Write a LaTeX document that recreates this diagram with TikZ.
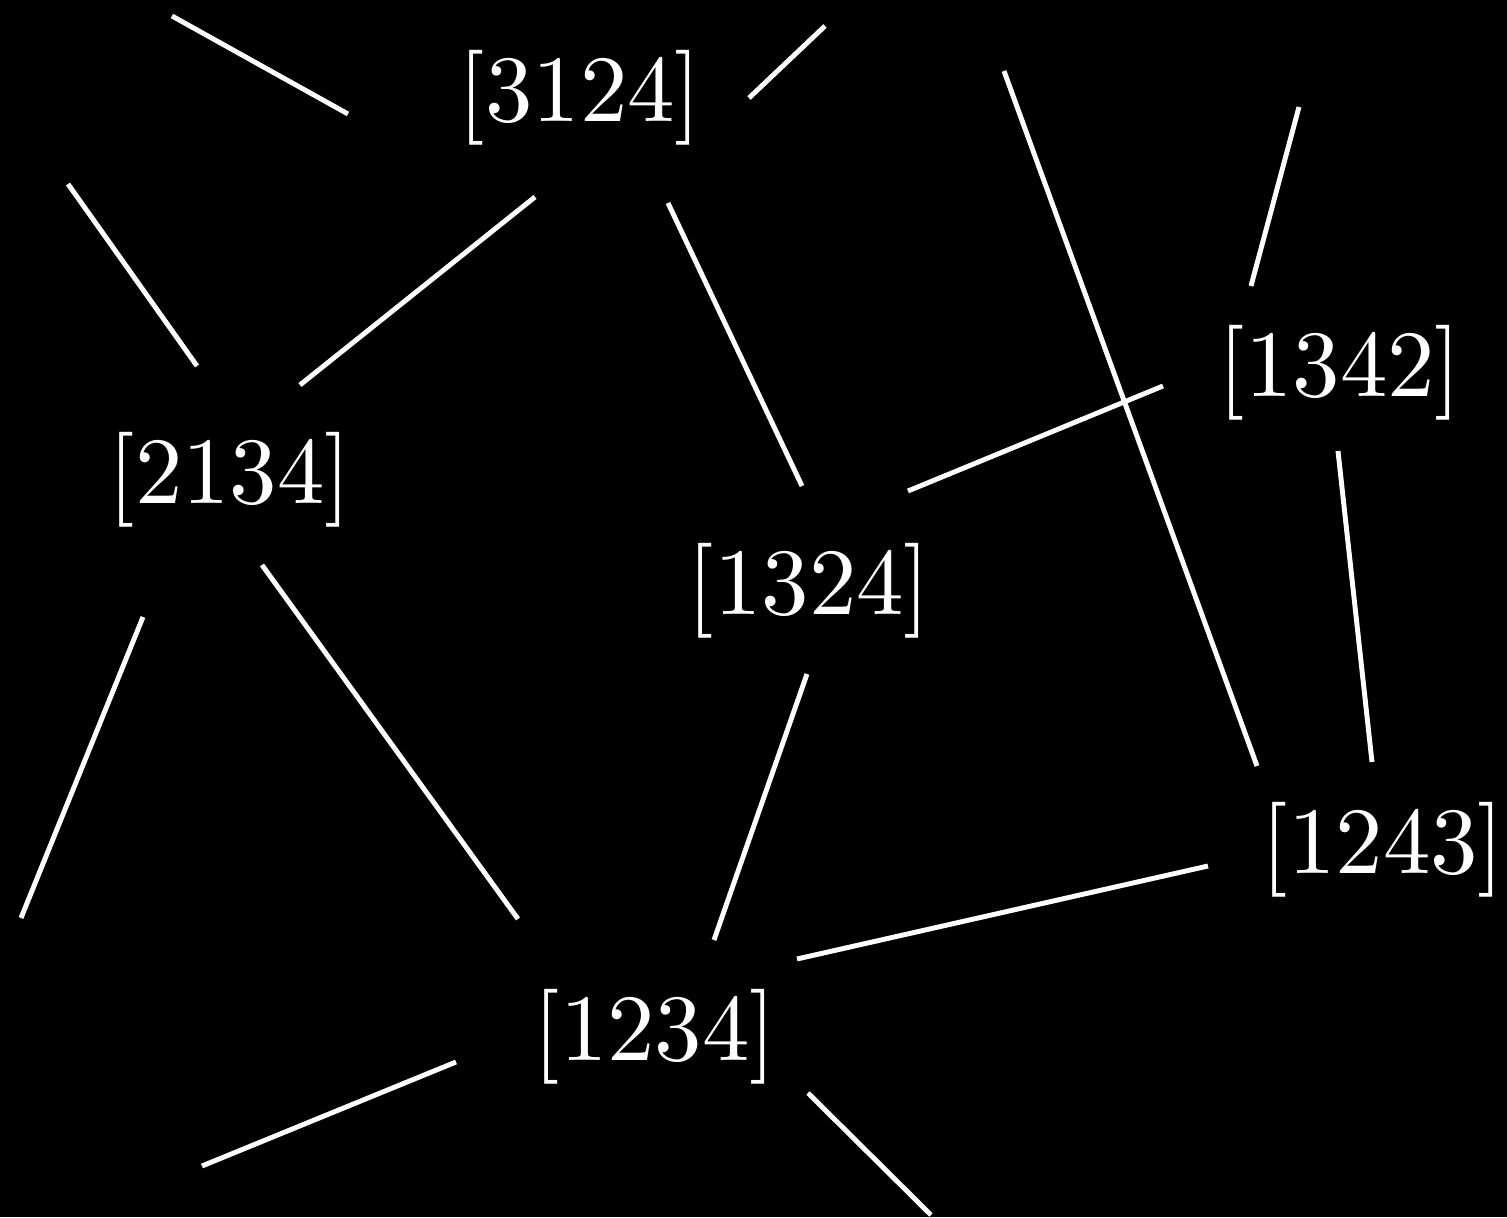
\documentclass[tikz,border=0pt]{standalone}
\usepackage{fontspec}
\usepackage{tikz}
\newfontfamily\permfont{lmroman10-regular}[Extension=.otf]

\begin{document}
\begin{tikzpicture}[x=0.1mm, y=-0.1mm,
    perm/.style={text=white, inner sep=0pt, font=\permfont\fontsize{27}{32}\selectfont},
    aresta/.style={draw=white, line width=1.4pt}]
  \fill[black] (0,0) rectangle (1507,1217);
  % vertices
  \node[perm] (n3124) at (580,98) {[3124]};
  \node[perm] (n2134) at (230,480) {[2134]};
  \node[perm] (n1342) at (1340,373) {[1342]};
  \node[perm] (n1324) at (809,591) {[1324]};
  \node[perm] (n1243) at (1383,850) {[1243]};
  \node[perm] (n1234) at (655,1037) {[1234]};
  % edges leaving the picture
  \coordinate (o1) at (1004,71);
  \coordinate (o2) at (1299,107);
  \coordinate (o3) at (825,26);
  \coordinate (o4) at (172,16);
  \coordinate (o5) at (68,184);
  \coordinate (o6) at (21,918);
  \coordinate (o7) at (202,1166);
  \coordinate (o8) at (931,1215);
  \draw[aresta] ([shift={(-45,99)}]n3124.center) -- ([shift={(70,-95)}]n2134.center);
  \draw[aresta] ([shift={(88,105)}]n3124.center) -- ([shift={(-7,-105)}]n1324.center);
  \draw[aresta] ([shift={(32,85)}]n2134.center) -- ([shift={(-137,-118)}]n1234.center);
  \draw[aresta] ([shift={(-2,83)}]n1324.center) -- ([shift={(59,-97)}]n1234.center);
  \draw[aresta] ([shift={(99,-100)}]n1324.center) -- ([shift={(-177,13)}]n1342.center);
  \draw[aresta] ([shift={(-2,78)}]n1342.center) -- ([shift={(-11,-88)}]n1243.center);
  \draw[aresta] ([shift={(142,-78)}]n1234.center) -- ([shift={(-175,16)}]n1243.center);
  \draw[aresta] ([shift={(-126,-84)}]n1243.center) -- (o1);
  \draw[aresta] ([shift={(-89,-87)}]n1342.center) -- (o2);
  \draw[aresta] ([shift={(169,0)}]n3124.center) -- (o3);
  \draw[aresta] ([shift={(-232,16)}]n3124.center) -- (o4);
  \draw[aresta] ([shift={(-33,-114)}]n2134.center) -- (o5);
  \draw[aresta] ([shift={(-87,137)}]n2134.center) -- (o6);
  \draw[aresta] ([shift={(-199,25)}]n1234.center) -- (o7);
  \draw[aresta] ([shift={(153,56)}]n1234.center) -- (o8);
\end{tikzpicture}
\end{document}
